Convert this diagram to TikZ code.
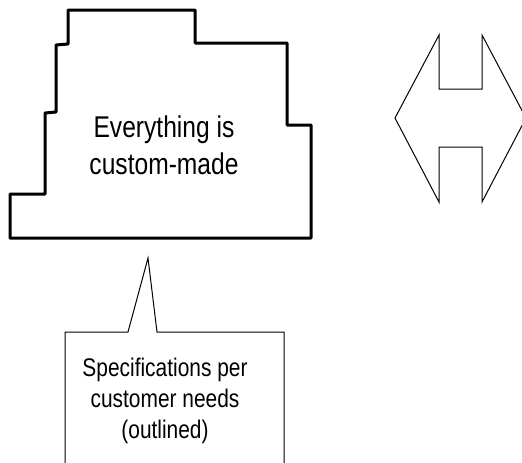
\documentclass[tikz,border=0pt]{standalone}
\usepackage{fontspec}
\newfontfamily\narrowsans[FakeStretch=0.82]{Liberation Sans}
\begin{document}
\begin{tikzpicture}[x=1pt,y=-1pt,
  outline/.style={draw=black,line width=3pt,line join=round},
  thinshape/.style={draw=black,line width=1pt,line join=miter},
  bigtext/.style={inner sep=0pt,align=center,anchor=base,
    font=\narrowsans\fontsize{30}{37}\selectfont},
  smalltext/.style={inner sep=0pt,align=center,anchor=base,
    font=\narrowsans\fontsize{25.5}{31}\selectfont}]
\useasboundingbox (0,0) rectangle (522,463);
\clip (0,0) rectangle (522,463);

% stepped outline of the custom-made block
\path[outline] (68,10) -- (195,10) -- (195,43) -- (287,43) -- (287,125)
  -- (311,125) -- (311,238) -- (10,238) -- (10,194) -- (45,194)
  -- (45,113) -- (56,112) -- (56,45) -- (68,44) -- cycle;
% anchor "base" sits on the last line of the text
\node[bigtext] (block) at (164,174) {Everything is\\custom-made};

% double-headed arrow on the right
\path[thinshape] (395,118) -- (439,35) -- (439,89) -- (482,89) -- (482,35)
  -- (526,118) -- (482,202) -- (482,147) -- (439,147) -- (439,202) -- cycle;

% callout box with its pointer
\coordinate (tip) at (148,258);
\path[thinshape] (65,470) -- (65,332) -- (128,332) -- (tip) -- (157,332)
  -- (284,332) -- (284,470);
\node[smalltext] (spec) at (165,438)
  {Specifications per\\customer needs\\(outlined)};
\end{tikzpicture}
\end{document}
